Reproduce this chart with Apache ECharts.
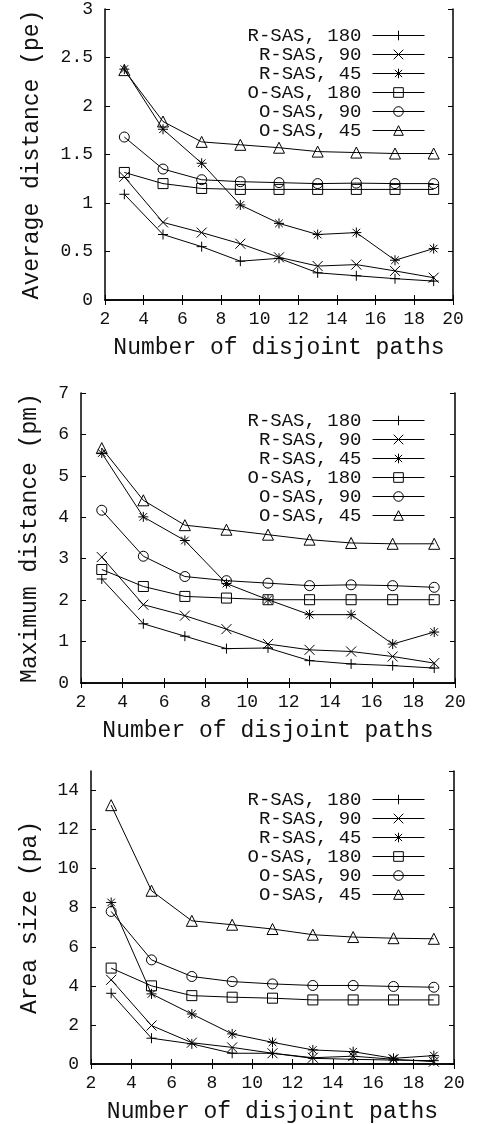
<!DOCTYPE html>
<html>
<head>
<meta charset="utf-8">
<script src="https://cdn.jsdelivr.net/npm/echarts@6/dist/echarts.min.js"></script>
<style>
  html, body { margin: 0; padding: 0; background: #fff; }
  #chart { width: 484px; height: 1124px; }
</style>
</head>
<body>
<div id="chart"></div>
<script>
// x values (number of disjoint paths)
const paths = [3, 5, 7, 9, 11, 13, 15, 17, 19];
const seriesNames = ['R-SAS, 180', 'R-SAS, 90', 'R-SAS, 45', 'O-SAS, 180', 'O-SAS, 90', 'O-SAS, 45'];

// average distance (pe)
const avgR180 = [1.09, 0.675, 0.55, 0.40, 0.43, 0.28, 0.25, 0.22, 0.195];
const avgR90 = [1.27, 0.80, 0.695, 0.58, 0.44, 0.35, 0.365, 0.30, 0.23];
const avgR45 = [2.38, 1.76, 1.41, 0.98, 0.79, 0.675, 0.695, 0.41, 0.53];
const avgO180 = [1.315, 1.20, 1.15, 1.14, 1.14, 1.14, 1.14, 1.14, 1.14];
const avgO90 = [1.68, 1.35, 1.24, 1.22, 1.21, 1.20, 1.205, 1.20, 1.20];
const avgO45 = [2.37, 1.84, 1.63, 1.60, 1.57, 1.53, 1.52, 1.51, 1.51];

// maximum distance (pm)
const maxR180 = [2.51, 1.43, 1.13, 0.83, 0.845, 0.54, 0.46, 0.42, 0.36];
const maxR90 = [3.04, 1.89, 1.625, 1.30, 0.94, 0.80, 0.76, 0.64, 0.48];
const maxR45 = [5.55, 4.01, 3.44, 2.40, 2.01, 1.65, 1.65, 0.94, 1.23];
const maxO180 = [2.74, 2.33, 2.09, 2.05, 2.01, 2.01, 2.01, 2.01, 2.01];
const maxO90 = [4.17, 3.06, 2.57, 2.47, 2.41, 2.35, 2.37, 2.35, 2.31];
const maxO45 = [5.67, 4.41, 3.81, 3.70, 3.58, 3.46, 3.38, 3.36, 3.36];

// area size (pa)
const areaR180 = [3.62, 1.32, 1.03, 0.55, 0.55, 0.29, 0.24, 0.20, 0.17];
const areaR90 = [4.31, 1.97, 1.09, 0.85, 0.55, 0.32, 0.40, 0.24, 0.12];
const areaR45 = [8.27, 3.59, 2.56, 1.54, 1.11, 0.72, 0.63, 0.29, 0.43];
const areaO180 = [4.91, 4.00, 3.50, 3.42, 3.37, 3.28, 3.28, 3.28, 3.28];
const areaO90 = [7.81, 5.33, 4.48, 4.22, 4.10, 4.02, 4.02, 3.97, 3.93];
const areaO45 = [13.25, 8.87, 7.33, 7.13, 6.91, 6.62, 6.50, 6.44, 6.41];

const symbols = [
  'path://M0,5L10,5M5,0L5,10',
  'path://M0,0L10,10M0,10L10,0',
  'path://M0,5L10,5M5,0L5,10M1.2,1.2L8.8,8.8M1.2,8.8L8.8,1.2',
  'rect',
  'circle',
  'triangle'
];

const FONT = 'Liberation Mono';
const TEXT = '#111';

const panels = [
  { data: [avgR180, avgR90, avgR45, avgO180, avgO90, avgO45], name: 'Average distance (pe)',
    grid: { left: 105, top: 7, width: 348, height: 293 }, yMax: 3, yStep: 0.5, nameGap: 62, legendTop: 26 },
  { data: [maxR180, maxR90, maxR45, maxO180, maxO90, maxO45], name: 'Maximum distance (pm)',
    grid: { left: 81, top: 393, width: 374, height: 290 }, yMax: 7, yStep: 1, nameGap: 40, legendTop: 411 },
  { data: [areaR180, areaR90, areaR45, areaO180, areaO90, areaO45], name: 'Area size (pa)',
    grid: { left: 91, top: 771, width: 363, height: 293 }, yMax: 15, yStep: 2, nameGap: 50, legendTop: 790 }
];

const axisLine = { show: true, lineStyle: { color: '#000', width: 1.5 } };
const axisTick = { show: true, inside: true, length: 5, lineStyle: { color: '#000', width: 1 } };

let grid = [], xAxis = [], yAxis = [], series = [], legend = [];

panels.forEach((p, gi) => {
  grid.push(p.grid);

  xAxis.push({
    type: 'value', gridIndex: gi, min: 2, max: 20, interval: 2, position: 'bottom',
    name: 'Number of disjoint paths', nameLocation: 'middle', nameGap: 36,
    nameTextStyle: { fontFamily: FONT, fontSize: 23, color: TEXT },
    axisLine, axisTick, splitLine: { show: false },
    axisLabel: { fontFamily: FONT, fontSize: 18, color: TEXT, margin: 10 }
  });
  xAxis.push({
    type: 'value', gridIndex: gi, min: 2, max: 20, interval: 2, position: 'top',
    axisLine, axisTick, splitLine: { show: false }, axisLabel: { show: false }
  });

  yAxis.push({
    type: 'value', gridIndex: gi, min: 0, max: p.yMax, interval: p.yStep, position: 'left',
    name: p.name, nameLocation: 'middle', nameGap: p.nameGap,
    nameTextStyle: { fontFamily: FONT, fontSize: 23, color: TEXT },
    axisLine, axisTick, splitLine: { show: false },
    axisLabel: { fontFamily: FONT, fontSize: 18, color: TEXT, margin: 12, showMaxLabel: p.yMax % p.yStep === 0 }
  });
  yAxis.push({
    type: 'value', gridIndex: gi, min: 0, max: p.yMax, interval: p.yStep, position: 'right',
    axisLine, axisTick, splitLine: { show: false }, axisLabel: { show: false }
  });

  p.data.forEach((vals, si) => {
    series.push({
      type: 'line',
      name: seriesNames[si],
      xAxisIndex: gi * 2,
      yAxisIndex: gi * 2,
      data: paths.map((x, i) => [x, vals[i]]),
      symbol: symbols[si],
      symbolSize: si === 5 ? 11 : 10,
      showAllSymbol: true,
      lineStyle: { color: '#000', width: 1 },
      itemStyle: { color: 'transparent', borderColor: '#000', borderWidth: 1 },
      emphasis: { disabled: true },
      animation: false
    });
  });

  legend.push({
    data: seriesNames,
    orient: 'vertical',
    align: 'right',
    right: 59,
    top: p.legendTop,
    padding: 0,
    itemWidth: 52,
    itemHeight: 12,
    itemGap: 0,
    selectedMode: false,
    itemStyle: { color: 'transparent', borderColor: '#000', borderWidth: 1 },
    lineStyle: { color: '#000', width: 1 },
    textStyle: { fontFamily: FONT, fontSize: 19, color: TEXT, lineHeight: 19, padding: [0, 6, 0, 0] }
  });
});

const chart = echarts.init(document.getElementById('chart'), null, { renderer: 'canvas' });
chart.setOption({
  backgroundColor: '#fff',
  animation: false,
  grid, xAxis, yAxis, series, legend
});
</script>
</body>
</html>
